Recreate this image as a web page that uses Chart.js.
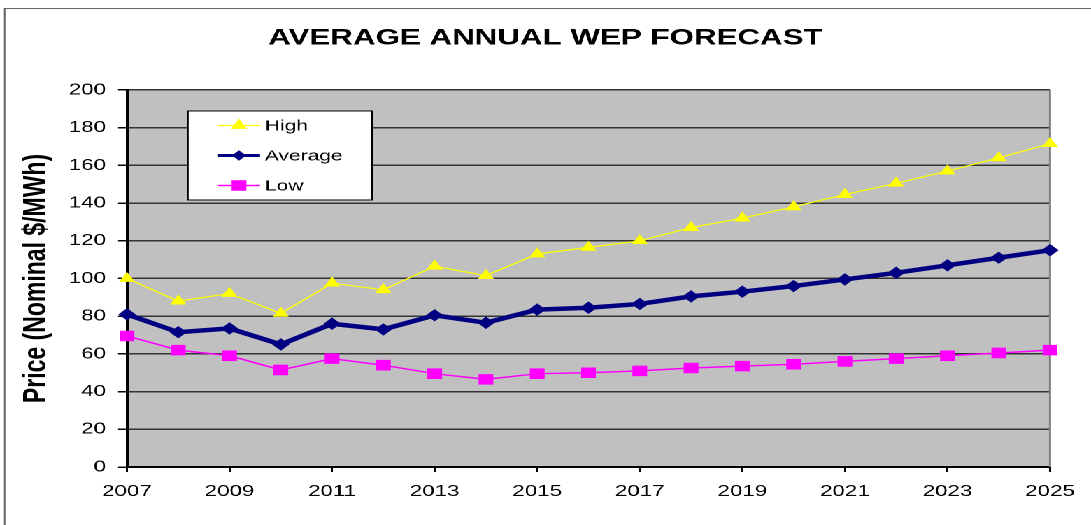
<!DOCTYPE html>
<html>
<head>
<meta charset="utf-8">
<script src="https://cdn.jsdelivr.net/npm/chart.js@4/dist/chart.umd.min.js"></script>
<style>
  html, body { margin: 0; padding: 0; background: #fff; overflow: hidden; }
  /* the source picture is stretched horizontally, so the whole chart is too */
  #wrap { position: relative; width: 780px; height: 525px; transform: scaleX(1.3987); transform-origin: 0 0; }
  #frame { position: absolute; left: 3px; top: 8px; right: -20px; bottom: -20px;
           border-left: 1.5px solid #444; border-top: 1.5px solid #666; }
  canvas { position: absolute; left: 0; top: 0; }
</style>
</head>
<body>
<div id="wrap">
  <div id="frame"></div>
  <canvas id="chart" width="780" height="525"></canvas>
</div>
<script>
// Данные прогноза, значения
const years = ["2007", "2008", "2009", "2010", "2011", "2012", "2013", "2014", "2015", "2016",
               "2017", "2018", "2019", "2020", "2021", "2022", "2023", "2024", "2025"]
const high = [100, 88, 92, 81.5, 97.5, 94, 106.5, 101.5, 113, 116.5,
              120, 127, 132, 138, 144.5, 150.5, 157, 164, 171.5]
const average = [81, 71.5, 73.5, 65, 76, 73, 80.5, 76.5, 83.5, 84.5,
                 86.5, 90.5, 93, 96, 99.5, 103, 107, 111, 115]
const low = [69.5, 62, 59, 51.5, 57.5, 54, 49.5, 46.5, 49.5, 50,
             51, 52.5, 53.5, 54.5, 56, 57.5, 59, 60.5, 62]
const yTicks = { min: 0, max: 200, step: 20 }

const FONT = "'Liberation Sans', Arial, sans-serif"

// Серый фон области построения и серая правая рамка
const plotBackground = {
  id: "plotBackground",
  beforeDraw(chart) {
    const { ctx, chartArea: a } = chart
    ctx.save()
    ctx.fillStyle = "#c0c0c0"
    ctx.fillRect(a.left, a.top, a.right - a.left, a.bottom - a.top)
    ctx.restore()
  },
  beforeDatasetsDraw(chart) {
    const { ctx, chartArea: a } = chart
    ctx.save()
    ctx.strokeStyle = "#808080"
    ctx.lineWidth = 1.5
    ctx.beginPath()
    ctx.moveTo(a.right, a.top)
    ctx.lineTo(a.right, a.bottom)
    ctx.stroke()
    ctx.restore()
  }
}

// Легенда в белой рамке внутри графика
const boxLegend = {
  id: "boxLegend",
  afterDraw(chart) {
    const { ctx, chartArea: a } = chart
    const x = a.left + 43.6, y = a.top + 21, w = 131.6, h = 89
    ctx.save()
    ctx.fillStyle = "#fff"
    ctx.fillRect(x, y, w, h)
    ctx.strokeStyle = "#000"
    ctx.lineWidth = 1
    ctx.strokeRect(x, y, w, h)
    chart.data.datasets.forEach((ds, i) => {
      const ry = y + 14.5 + i * 30
      ctx.strokeStyle = ds.borderColor
      ctx.lineWidth = Math.min(ds.borderWidth, 3)
      ctx.beginPath()
      ctx.moveTo(x + 21.5, ry)
      ctx.lineTo(x + 51.5, ry)
      ctx.stroke()
      ctx.fillStyle = ds.pointBackgroundColor
      ctx.strokeStyle = ds.pointBorderColor
      Chart.helpers.drawPoint(ctx, { pointStyle: ds.pointStyle, radius: ds.pointRadius, borderWidth: 1, rotation: 0 }, x + 36.5, ry)
      ctx.fillStyle = "#000"
      ctx.font = "15px " + FONT
      ctx.textBaseline = "middle"
      ctx.fillText(ds.label, x + 55, ry + 1)
    })
    ctx.restore()
  }
}

new Chart(document.getElementById("chart"), {
  type: "line",
  data: {
    labels: years,
    datasets: [
      {
        label: "High",
        data: high,
        borderColor: "#ffff00",
        borderWidth: 1.2,
        pointStyle: "triangle",
        pointRadius: 5.5,
        pointBackgroundColor: "#ffff00",
        pointBorderColor: "#ffff00",
        tension: 0
      },
      {
        label: "Average",
        data: average,
        borderColor: "#000080",
        borderWidth: 4.5,
        pointStyle: "rectRot",
        pointRadius: 3,
        pointBackgroundColor: "#000080",
        pointBorderColor: "#000080",
        tension: 0
      },
      {
        label: "Low",
        data: low,
        borderColor: "#ff00ff",
        borderWidth: 1.5,
        pointStyle: "rect",
        pointRadius: 6.4,
        pointBackgroundColor: "#ff00ff",
        pointBorderColor: "#ff00ff",
        tension: 0
      }
    ]
  },
  options: {
    responsive: false,
    animation: false,
    devicePixelRatio: 2,
    layout: { padding: 0 },
    plugins: {
      legend: { display: false },
      tooltip: { enabled: false },
      title: {
        display: true,
        text: "AVERAGE ANNUAL WEP FORECAST",
        color: "#000",
        font: { family: FONT, size: 22.4, weight: "bold" },
        padding: { top: 25, bottom: 38.1 }
      }
    },
    scales: {
      x: {
        offset: false,
        afterFit(scale) { scale.height = 58 },
        grid: {
          drawOnChartArea: false,
          drawTicks: true,
          tickLength: 5,
          tickColor: (c) => (c.index % 2 === 0 ? "#000" : "rgba(0,0,0,0)"),
          lineWidth: 1.5
        },
        border: { color: "#000", width: 2 },
        ticks: {
          autoSkip: false,
          maxRotation: 0,
          color: "#000",
          padding: 10,
          font: { family: FONT, size: 16 },
          callback: (v, i) => (i % 2 === 0 ? years[i] : "")
        }
      },
      y: {
        min: yTicks.min,
        max: yTicks.max,
        afterFit(scale) { scale.width = 90.8 },
        grid: { color: "#333", lineWidth: 1.5, tickLength: 6.4, tickColor: "#000" },
        border: { color: "#000", width: 2 },
        ticks: {
          stepSize: yTicks.step,
          color: "#000",
          padding: 8.6,
          font: { family: FONT, size: 16 }
        },
        title: {
          display: true,
          text: "Price (Nominal $/MWh)",
          color: "#000",
          font: { family: FONT, size: 23, weight: "bold" },
          padding: { top: 12.5, bottom: 0 }
        }
      },
      // пустая ось справа — только отступ, чтобы заголовок был по центру всего рисунка
      yRight: {
        position: "right",
        min: yTicks.min,
        max: yTicks.max,
        afterFit(scale) { scale.width = 29.3 },
        grid: { display: false },
        border: { display: false },
        ticks: { display: false }
      }
    }
  },
  plugins: [plotBackground, boxLegend]
})
</script>
</body>
</html>
